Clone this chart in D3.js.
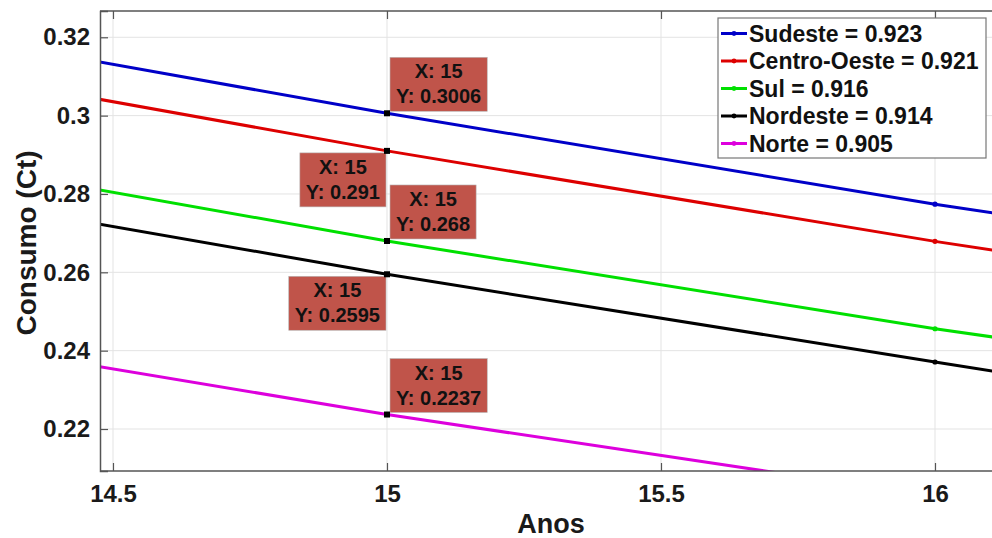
<!DOCTYPE html>
<html>
<head>
<meta charset="utf-8">
<script src="https://cdn.jsdelivr.net/npm/d3@7"></script>
<style>
  html, body { margin: 0; padding: 0; background: #fff; }
  svg { display: block; font-family: "Liberation Sans", Arial, sans-serif; font-weight: bold; }
</style>
</head>
<body>
<svg id="chart" width="992" height="538"></svg>
<script>
const YEARS = [14, 15, 16, 17];
const SUDESTE = [0.3256, 0.3006, 0.2774, 0.2564];
const CENTRO_OESTE = [0.3161, 0.291, 0.2679, 0.2469];
const SUL = [0.2929, 0.268, 0.2456, 0.2256];
const NORDESTE = [0.2839, 0.2595, 0.2371, 0.215];
const NORTE = [0.2470, 0.2237, 0.2028, 0.184];

const SERIES_NAMES = ["Sudeste = 0.923", "Centro-Oeste = 0.921", "Sul = 0.916", "Nordeste = 0.914", "Norte = 0.905"];
const SERIES_VALUES = [SUDESTE, CENTRO_OESTE, SUL, NORDESTE, NORTE];
const SERIES_COLORS = ["#0000c8", "#dd0000", "#00e000", "#000000", "#dd00dd"];

const X_TICKS = [14.5, 15, 15.5, 16];
const Y_TICKS = [0.22, 0.24, 0.26, 0.28, 0.3, 0.32];

// data tips shown at x = 15, one per series; side says where the box sits
const TIP_X = 15;
const TIP_SIDES = ["right", "left", "right", "left", "right"];

const plotLeft = 100, plotRight = 992, plotTop = 11, plotBottom = 471;

const svg = d3.select("#chart");

const x = d3.scaleLinear().domain([14.4763, 16.104]).range([plotLeft, plotRight]);
const y = d3.scaleLinear().domain([0.20928, 0.32671]).range([plotBottom, plotTop]);

svg.append("defs").append("clipPath").attr("id", "plot-clip")
  .append("rect")
  .attr("x", plotLeft).attr("y", plotTop)
  .attr("width", plotRight - plotLeft).attr("height", plotBottom - plotTop);

// grid
const grid = svg.append("g").attr("stroke", "#e3e3e3").attr("stroke-width", 1);
grid.selectAll(".gx").data(X_TICKS).join("line")
  .attr("x1", d => x(d)).attr("x2", d => x(d))
  .attr("y1", plotTop).attr("y2", plotBottom);
grid.selectAll(".gy").data(Y_TICKS).join("line")
  .attr("x1", plotLeft).attr("x2", plotRight)
  .attr("y1", d => y(d)).attr("y2", d => y(d));

// lines
const plot = svg.append("g").attr("clip-path", "url(#plot-clip)");
const line = d3.line().x(d => x(d[0])).y(d => y(d[1]));

SERIES_VALUES.forEach((vals, i) => {
  const pts = YEARS.map((yr, k) => [yr, vals[k]]);
  plot.append("path")
    .attr("d", line(pts))
    .attr("fill", "none")
    .attr("stroke", SERIES_COLORS[i])
    .attr("stroke-width", 3);
  plot.selectAll(null).data(pts.filter(p => p[0] !== TIP_X)).join("circle")
    .attr("cx", d => x(d[0])).attr("cy", d => y(d[1]))
    .attr("r", 2.6)
    .attr("fill", SERIES_COLORS[i]);
});

// axes (left, bottom, top border with mirrored ticks)
const axisColor = "#555";
const yAxis = svg.append("g").attr("transform", `translate(${plotLeft},0)`)
  .call(d3.axisLeft(y).tickValues(Y_TICKS).tickSize(-8).tickPadding(10)
    .tickFormat(d => d3.format("~g")(d)));
const xAxis = svg.append("g").attr("transform", `translate(0,${plotBottom})`)
  .call(d3.axisBottom(x).tickValues(X_TICKS).tickSize(-8).tickPadding(14)
    .tickFormat(d => d3.format("~g")(d)));
const topAxis = svg.append("g").attr("transform", `translate(0,${plotTop})`)
  .call(d3.axisTop(x).tickValues(X_TICKS).tickSize(-8).tickFormat(""));

[yAxis, xAxis, topAxis].forEach(g => {
  g.select(".domain").attr("stroke", axisColor).attr("stroke-width", 1.5);
  g.selectAll(".tick line").attr("stroke", axisColor).attr("stroke-width", 1.2);
  g.selectAll(".tick text")
    .attr("fill", "#1a1a1a")
    .style("font-size", "24px")
    .style("font-weight", "bold")
    .style("font-family", "'Liberation Sans', Arial, sans-serif");
});
topAxis.select(".domain").attr("d", `M${plotLeft},0H${plotRight + 10}`);
xAxis.select(".domain").attr("d", `M${plotLeft},0H${plotRight + 10}`);
xAxis.selectAll(".tick text").attr("dy", "0.71em");

// axis titles
svg.append("text")
  .attr("x", 551).attr("y", 533)
  .attr("text-anchor", "middle")
  .attr("fill", "#1a1a1a")
  .style("font-size", "27px")
  .text("Anos");

svg.append("text")
  .attr("transform", "translate(36,243) rotate(-90)")
  .attr("text-anchor", "middle")
  .attr("fill", "#1a1a1a")
  .style("font-size", "28px")
  .text("Consumo (Ct)");

// data tips
const tips = svg.append("g");
SERIES_VALUES.forEach((vals, i) => {
  const val = vals[YEARS.indexOf(TIP_X)];
  const px = x(TIP_X), py = y(val);
  const g = tips.append("g");
  const rect = g.append("rect").attr("fill", "#c0544a").attr("stroke", "#b8b8b8").attr("stroke-width", 0.6);
  const t1 = g.append("text").attr("text-anchor", "middle").style("font-size", "20px").attr("fill", "#111")
    .text(`X: ${TIP_X}`);
  const t2 = g.append("text").attr("text-anchor", "middle").style("font-size", "20px").attr("fill", "#111")
    .text(`Y: ${val}`);
  const w = Math.max(t1.node().getComputedTextLength(), t2.node().getComputedTextLength()) + 12;
  const h = 54;
  let bx, by;
  if (TIP_SIDES[i] === "right") {
    bx = px + 3; by = py - 2 - h;
  } else {
    bx = px - 1 - w; by = py + 2;
  }
  rect.attr("x", bx).attr("y", by).attr("width", w).attr("height", h);
  t1.attr("x", bx + w / 2).attr("y", by + 21);
  t2.attr("x", bx + w / 2).attr("y", by + 46);
  g.append("rect")
    .attr("x", px - 3).attr("y", py - 3)
    .attr("width", 6).attr("height", 6)
    .attr("fill", "#000");
});

// legend
const legend = svg.append("g");
legend.append("rect")
  .attr("x", 718).attr("y", 18)
  .attr("width", 268).attr("height", 140)
  .attr("fill", "#fff")
  .attr("stroke", "#777").attr("stroke-width", 1.2);

SERIES_NAMES.forEach((name, i) => {
  const cy = 33.5 + i * 27.5;
  legend.append("line")
    .attr("x1", 721).attr("x2", 747)
    .attr("y1", cy).attr("y2", cy)
    .attr("stroke", SERIES_COLORS[i]).attr("stroke-width", 3);
  legend.append("circle")
    .attr("cx", 734).attr("cy", cy).attr("r", 2.4)
    .attr("fill", SERIES_COLORS[i]);
  legend.append("text")
    .attr("x", 749).attr("y", cy + 8.3)
    .attr("fill", "#111")
    .style("font-size", "23px")
    .text(name);
});
</script>
</body>
</html>
